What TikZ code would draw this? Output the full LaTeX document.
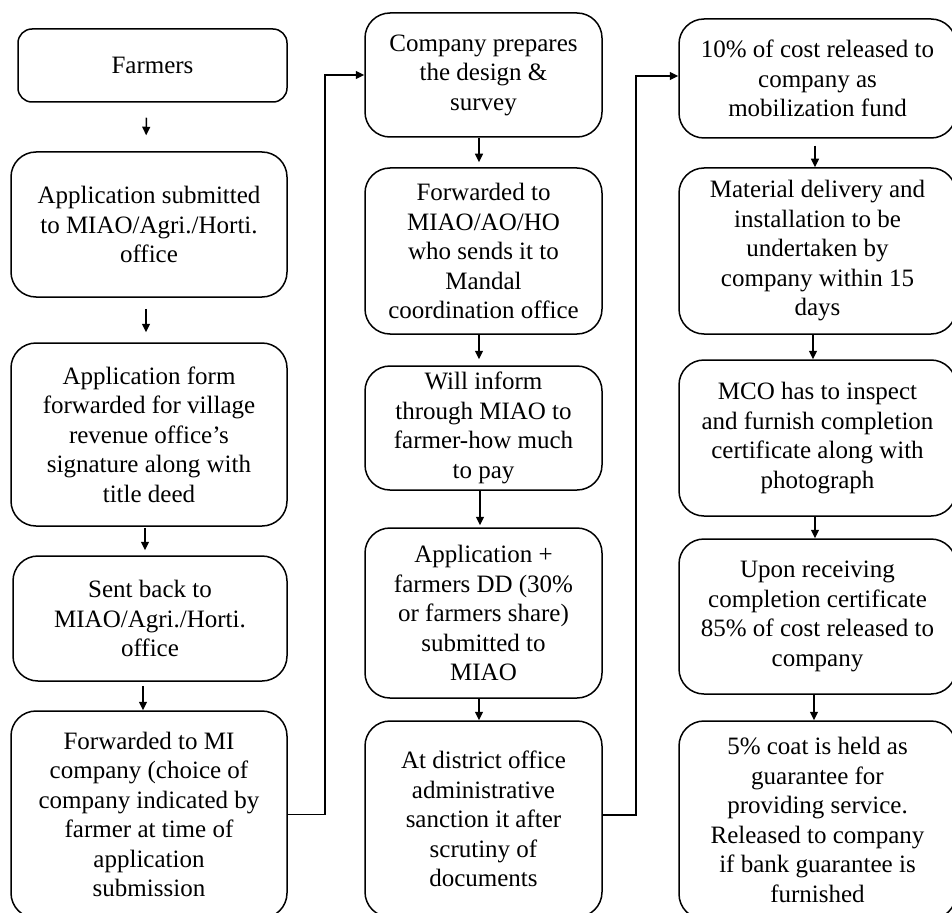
\documentclass[tikz,border=0pt]{standalone}
\usepackage{fontspec}
\setmainfont{Liberation Serif}
\usetikzlibrary{arrows.meta}
\begin{document}
\begin{tikzpicture}[x=1pt,y=-1pt,
  box/.style={draw, line width=1.5pt, rounded corners=25pt, align=center, inner sep=0pt,
    font={\fontsize{25}{29.5}\selectfont}},
  arr/.style={line width=1.5pt, -{Triangle[length=8.5pt,width=8pt]}},
]
\useasboundingbox (0,0) rectangle (952,912);
\clip (0,0) rectangle (952,912);
% column 1
\node[box, rounded corners=14pt, minimum width=269pt, minimum height=73pt] (a1) at (152.5,65.5) {Farmers};
\node[box, minimum width=276pt, minimum height=145pt] (a2) at (149,224.5) {Application submitted\\to MIAO/Agri./Horti.\\office};
\node[box, minimum width=276pt, minimum height=183pt] (a3) at (149,434.5) {Application form\\forwarded for village\\revenue office’s\\signature along with\\title deed};
\node[box, minimum width=274pt, minimum height=125pt] (a4) at (150,618.5) {Sent back to\\MIAO/Agri./Horti.\\office};
\node[box, minimum width=276pt, minimum height=207pt] (a5) at (149,814.5) {Forwarded to MI\\company (choice of\\company indicated by\\farmer at time of\\application\\submission};
% column 2
\node[box, minimum width=237pt, minimum height=124pt] (b1) at (483.5,75) {Company prepares\\the design \&\\survey};
\node[box, minimum width=237pt, minimum height=166pt] (b2) at (483.5,251) {Forwarded to\\MIAO/AO/HO\\who sends it to\\Mandal\\coordination office};
\node[box, minimum width=237pt, minimum height=124pt] (b3) at (483.5,428) {Will inform\\through MIAO to\\farmer-how much\\to pay};
\node[box, minimum width=237pt, minimum height=170pt] (b4) at (483.5,613) {Application +\\farmers DD (30\%\\or farmers share)\\submitted to\\MIAO};
\node[box, minimum width=237pt, minimum height=196pt] (b5) at (483.5,819) {At district office\\administrative\\sanction it after\\scrutiny of\\documents};
% column 3
\node[box, minimum width=277pt, minimum height=119pt] (c1) at (817.5,78.5) {10\% of cost released to\\company as\\mobilization fund};
\node[box, minimum width=277pt, minimum height=166pt] (c2) at (817.5,251) {Material delivery and\\installation to be\\undertaken by\\company within 15\\days};
\node[box, minimum width=277pt, minimum height=156pt] (c3) at (817.5,438) {MCO has to inspect\\and furnish completion\\certificate along with\\photograph};
\node[box, minimum width=277pt, minimum height=155pt] (c4) at (817.5,616.5) {Upon receiving\\completion certificate\\85\% of cost released to\\company};
\node[box, minimum width=277pt, minimum height=198pt] (c5) at (817.5,820) {5\% coat is held as\\guarantee for\\providing service.\\Released to company\\if bank guarantee is\\furnished};
% vertical arrows column 1
\draw[arr, shorten <=15pt, shorten >=16pt] ([xshift=-6pt]a1.south) -- ([xshift=-3pt]a2.north);
\draw[arr, shorten <=11pt, shorten >=10pt] ([xshift=-3pt]a2.south) -- ([xshift=-3pt]a3.north);
\draw[arr, shorten <=1pt, shorten >=5pt] ([xshift=-4pt]a3.south) -- ([xshift=-5pt]a4.north);
\draw[arr, shorten <=4pt, shorten >=0pt] ([xshift=-7pt]a4.south) -- ([xshift=-6pt]a5.north);
% vertical arrows column 2
\draw[arr, shorten >=5pt] ([xshift=-4.5pt]b1.south) -- ([xshift=-4.5pt]b2.north);
\draw[arr, shorten >=6pt] ([xshift=-4.5pt]b2.south) -- ([xshift=-4.5pt]b3.north);
\draw[arr, shorten >=2pt] ([xshift=-3.5pt]b3.south) -- ([xshift=-3.5pt]b4.north);
\draw[arr, shorten >=0pt] ([xshift=-4.5pt]b4.south) -- ([xshift=-4.5pt]b5.north);
% vertical arrows column 3
\draw[arr, shorten <=7pt] ([xshift=-2.5pt]c1.south) -- ([xshift=-2.5pt]c2.north);
\draw[arr] ([xshift=-4.5pt]c2.south) -- ([xshift=-4.5pt]c3.north);
\draw[arr] ([xshift=-2.5pt]c3.south) -- ([xshift=-2.5pt]c4.north);
\draw[arr] ([xshift=-3.5pt]c4.south) -- ([xshift=-3.5pt]c5.north);
% column links
\coordinate (k1) at (325,814.5);
\coordinate (k2) at (636,815);
\draw[arr] (a5.east) -- (k1) |- (b1.west);
\draw[arr] ([yshift=4pt]b5.east) -- (k2) |- ([yshift=2.5pt]c1.west);
\end{tikzpicture}
\end{document}
